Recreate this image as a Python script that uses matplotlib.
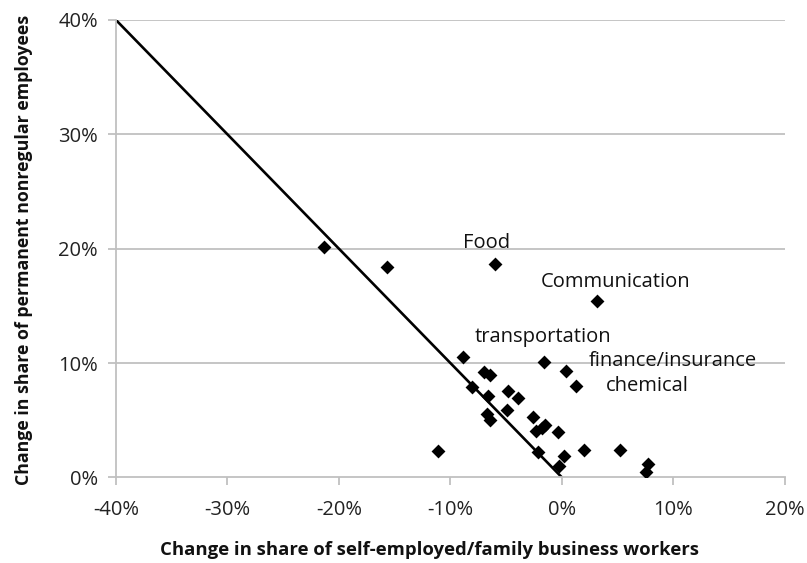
import matplotlib
matplotlib.use("Agg")
import matplotlib.pyplot as plt
from matplotlib.ticker import FuncFormatter

# Data (percent)
x_self = [-8.86, -1.59, 0.36, 1.23, -6.97, -6.46, -8.05, -6.61, -4.82, -3.98,
          -4.96, -6.71, -6.46, -2.58, -1.53, -1.82, -2.36, -0.39, -2.11, 2.0,
          0.21, -0.27, -11.1, 5.21, 7.75, 7.51, -21.3, -15.68, -6.01, 3.11]
y_nonreg = [10.54, 10.07, 9.34, 7.96, 9.19, 8.99, 7.88, 7.09, 7.53, 6.95,
            5.92, 5.57, 5.04, 5.25, 4.61, 4.32, 4.08, 4.02, 2.26, 2.41,
            1.91, 1.01, 2.35, 2.41, 1.16, 0.46, 20.16, 18.44, 18.70, 15.42]
line_x = [-40, 0]
line_y = [40, 0]
labels = ["Food", "Communication", "transportation", "finance/insurance", "chemical"]
label_x = [-8.91, -1.89, -7.87, 2.36, 3.92]
label_y = [20.47, 17.06, 12.3, 10.21, 7.98]

x_ticks = [-40, -30, -20, -10, 0, 10, 20]
y_ticks = [0, 10, 20, 30, 40]

plt.rcParams['font.family'] = ['Open Sans', 'DejaVu Sans']

fig = plt.figure(figsize=(8.07, 5.63), dpi=100)
ax = fig.add_axes([0.1437, 0.1519, 0.9727 - 0.1437, 0.9645 - 0.1519])

grid_c = '#c0c0c0'
for yt in y_ticks[1:]:
    ax.axhline(yt, color=grid_c, lw=1.3, zorder=0)

ax.plot(line_x, line_y, color='black', lw=1.9, zorder=2)
ax.scatter(x_self, y_nonreg, marker='D', s=50, color='black', zorder=3, linewidths=0)

for t, lx, ly in zip(labels, label_x, label_y):
    ax.text(lx, ly, t, ha='left', va='center', fontsize=14.5, color='#111111')

ax.set_xlim(-40, 20)
ax.set_ylim(0, 40)
ax.set_xticks(x_ticks)
ax.set_yticks(y_ticks)
fmt = FuncFormatter(lambda v, p: f"{int(round(v))}%")
ax.xaxis.set_major_formatter(fmt)
ax.yaxis.set_major_formatter(fmt)

for s in ['top', 'right']:
    ax.spines[s].set_visible(False)
for s in ['left', 'bottom']:
    ax.spines[s].set_color(grid_c)
    ax.spines[s].set_linewidth(1.3)

ax.tick_params(axis='both', colors=grid_c, length=6, width=1.3, labelcolor='#222222',
               labelsize=14.5)
ax.tick_params(axis='x', pad=10)
ax.tick_params(axis='y', pad=7)

fig.text(430 / 807, 1 - 550 / 563,
         "Change in share of self-employed/family business workers",
         ha='center', va='center', fontsize=13.3, fontweight='bold', color='#111111')
fig.text(24 / 807, 1 - 250 / 563,
         "Change in share of permanent nonregular employees",
         ha='center', va='center', rotation=90, fontsize=12.8, fontweight='bold',
         color='#111111')

fig.savefig("out.png", dpi=100)
